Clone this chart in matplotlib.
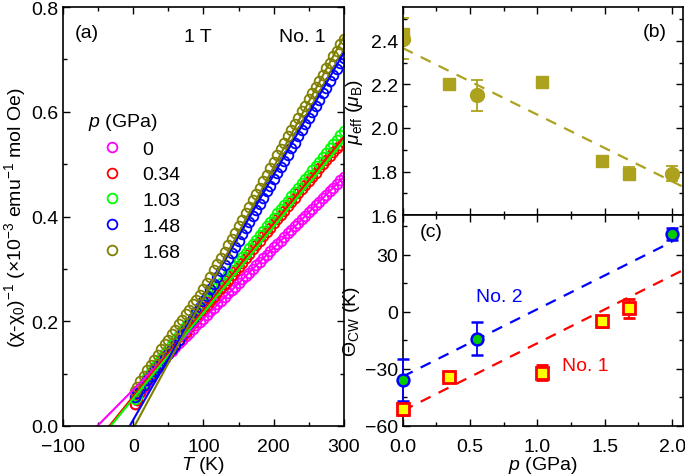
import matplotlib
matplotlib.use('Agg')
import matplotlib.pyplot as plt
import numpy as np
from matplotlib.ticker import MultipleLocator

plt.rcParams['font.family'] = ['Liberation Sans', 'DejaVu Sans']
plt.rcParams['mathtext.fontset'] = 'custom'
plt.rcParams['mathtext.rm'] = 'Liberation Sans'
plt.rcParams['mathtext.it'] = 'Liberation Sans:italic'
plt.rcParams['mathtext.bf'] = 'Liberation Sans:bold'
plt.rcParams['font.size'] = 14

# ---- panel (a) data: inverse susceptibility vs T ----
T = [2, 5, 10, 15, 20, 25, 30, 35, 40, 45, 50, 55, 60, 65, 70, 75, 80, 85, 90, 95,
     100, 105, 110, 115, 120, 125, 130, 135, 140, 145, 150, 155, 160, 165, 170, 175,
     180, 185, 190, 195, 200, 205, 210, 215, 220, 225, 230, 235, 240, 245, 250, 255,
     260, 265, 270, 275, 280, 285, 290, 295, 300]

inv_chi_0 = [0.042, 0.050, 0.062, 0.073, 0.083, 0.092, 0.101, 0.110, 0.120, 0.130, 0.138,
             0.144, 0.151, 0.158, 0.165, 0.172, 0.178, 0.185, 0.192, 0.199, 0.205,
             0.212, 0.219, 0.226, 0.232, 0.239, 0.246, 0.253, 0.259, 0.266, 0.273,
             0.280, 0.286, 0.293, 0.300, 0.307, 0.313, 0.320, 0.327, 0.334, 0.341,
             0.347, 0.354, 0.361, 0.368, 0.374, 0.381, 0.388, 0.395, 0.401, 0.408,
             0.415, 0.422, 0.428, 0.435, 0.442, 0.449, 0.455, 0.462, 0.469, 0.476]
inv_chi_034 = [0.042, 0.050, 0.064, 0.077, 0.089, 0.099, 0.108, 0.117, 0.125, 0.133, 0.140,
               0.147, 0.155, 0.164, 0.172, 0.180, 0.188, 0.197, 0.205, 0.213, 0.222,
               0.230, 0.238, 0.246, 0.255, 0.263, 0.271, 0.279, 0.288, 0.296, 0.304,
               0.312, 0.321, 0.329, 0.337, 0.345, 0.354, 0.362, 0.370, 0.378, 0.387,
               0.395, 0.403, 0.411, 0.420, 0.428, 0.436, 0.444, 0.452, 0.460, 0.468,
               0.476, 0.484, 0.492, 0.500, 0.508, 0.516, 0.523, 0.530, 0.537, 0.543]
inv_chi_103 = [0.052, 0.058, 0.070, 0.082, 0.093, 0.103, 0.112, 0.121, 0.130, 0.139, 0.147,
               0.156, 0.164, 0.173, 0.181, 0.190, 0.198, 0.207, 0.215, 0.224, 0.232,
               0.240, 0.248, 0.257, 0.265, 0.273, 0.281, 0.290, 0.298, 0.306, 0.315,
               0.323, 0.331, 0.339, 0.348, 0.356, 0.364, 0.373, 0.381, 0.389, 0.398,
               0.406, 0.414, 0.422, 0.430, 0.439, 0.447, 0.455, 0.464, 0.472, 0.480,
               0.488, 0.497, 0.505, 0.513, 0.522, 0.530, 0.538, 0.546, 0.555, 0.563]
inv_chi_148 = [0.056, 0.062, 0.071, 0.079, 0.088, 0.096, 0.105, 0.113, 0.121, 0.129, 0.137,
               0.146, 0.155, 0.165, 0.175, 0.185, 0.195, 0.206, 0.217, 0.228, 0.239,
               0.249, 0.261, 0.272, 0.284, 0.296, 0.307, 0.319, 0.331, 0.342, 0.354,
               0.366, 0.378, 0.389, 0.401, 0.413, 0.424, 0.436, 0.448, 0.459, 0.471,
               0.483, 0.494, 0.506, 0.518, 0.530, 0.541, 0.553, 0.565, 0.576, 0.588,
               0.600, 0.611, 0.623, 0.635, 0.646, 0.658, 0.670, 0.681, 0.693, 0.703]
inv_chi_168 = [0.067, 0.074, 0.085, 0.096, 0.106, 0.116, 0.126, 0.136, 0.146, 0.156, 0.165,
               0.175, 0.184, 0.194, 0.203, 0.213, 0.222, 0.232, 0.241, 0.251, 0.261,
               0.273, 0.285, 0.297, 0.309, 0.321, 0.333, 0.345, 0.357, 0.369, 0.382,
               0.394, 0.406, 0.418, 0.431, 0.443, 0.455, 0.468, 0.480, 0.492, 0.505,
               0.517, 0.529, 0.541, 0.553, 0.565, 0.577, 0.589, 0.601, 0.612, 0.624,
               0.636, 0.648, 0.659, 0.671, 0.683, 0.694, 0.706, 0.717, 0.729, 0.740]

p_labels = ['0', '0.34', '1.03', '1.48', '1.68']
colors_a = ['#ff00ff', '#ff0000', '#00ff00', '#0000ff', '#808000']
series_a = [inv_chi_0, inv_chi_034, inv_chi_103, inv_chi_148, inv_chi_168]

# ---- panel (b)/(c) data: sample No. 1 (squares) and No. 2 (circles) ----
p1 = [0.0, 0.34, 1.03, 1.48, 1.68]
mu1 = [2.43, 2.20, 2.21, 1.85, 1.79]
mu1_err = [0.0, 0.0, 0.0, 0.0, 0.03]
theta1 = [-51, -34, -32, -5, 2]
theta1_err = [3, 2, 4, 3, 5]

p2 = [0.0, 0.55, 2.0]
mu2 = [2.41, 2.15, 1.79]
mu2_err = [0.095, 0.07, 0.035]
theta2 = [-36, -14, 41]
theta2_err = [11, 8.5, 3]

# dashed guide lines (endpoints)
p_line_b = [0.0, 2.08]
mu_line = [2.367, 1.73]
p_line_red = [0.0, 2.08]
theta_line_red = [-52, 22]
p_line_blue = [0.0, 2.0]
theta_line_blue = [-34, 37]

olive_b = '#ada21e'

fig = plt.figure(figsize=(6.85, 4.77), dpi=100)
axa = fig.add_axes([0.092, 0.105, 0.410, 0.878])
axb = fig.add_axes([0.588, 0.547, 0.409, 0.436])
axc = fig.add_axes([0.588, 0.105, 0.409, 0.442])

# Panel (a)
for y, c, lab in zip(series_a, colors_a, p_labels):
    axa.plot(T, y, 'o', mfc='none', mec=c, ms=7, mew=1.3, label=lab)
# Curie-Weiss fit lines built from the fitted Theta and mu_eff
for th, mu, c in zip(theta1, mu1, colors_a):
    slope = 8.0 / mu ** 2 / 1000.0
    axa.plot([th, 310], [0, slope * (310 - th)], '-', color=c, lw=1.5)

axa.set_xlim(-100, 300)
axa.set_ylim(0, 0.8)
axa.xaxis.set_major_locator(MultipleLocator(100))
axa.xaxis.set_minor_locator(MultipleLocator(50))
axa.yaxis.set_major_locator(MultipleLocator(0.2))
axa.yaxis.set_minor_locator(MultipleLocator(0.1))
axa.set_xlabel('$T$ (K)', labelpad=-1)
axa.set_ylabel('(χ-χ$_0$)$^{-1}$ (×10$^{-3}$ emu$^{-1}$ mol Oe)', labelpad=2)
axa.text(0.04, 0.96, '(a)', transform=axa.transAxes, va='top')
axa.text(0.43, 0.95, '1 T', transform=axa.transAxes, va='top')
axa.text(0.77, 0.95, 'No. 1', transform=axa.transAxes, va='top')
leg = axa.legend(loc='upper left', bbox_to_anchor=(0.04, 0.785), frameon=False,
                 title='$p$ (GPa)', handlelength=2.5, handletextpad=0.3,
                 labelspacing=0.42, borderpad=0.2, fontsize=14, title_fontsize=14)
leg._legend_box.align = 'left'

# Panel (b)
axb.plot(p_line_b, mu_line, '--', color=olive_b, lw=1.6, dashes=(5, 4))
axb.errorbar(p1, mu1, yerr=mu1_err, fmt='s', color=olive_b, ms=9, capsize=4, elinewidth=1.3, capthick=1.3)
axb.errorbar(p2, mu2, yerr=mu2_err, fmt='o', color=olive_b, ms=10, capsize=4, elinewidth=1.3, capthick=1.3)
axb.set_xlim(0, 2.08)
axb.set_ylim(1.6, 2.555)
axb.xaxis.set_major_locator(MultipleLocator(0.5))
axb.xaxis.set_minor_locator(MultipleLocator(0.25))
axb.yaxis.set_major_locator(MultipleLocator(0.2))
axb.yaxis.set_minor_locator(MultipleLocator(0.1))
axb.tick_params(labelbottom=False)
axb.set_ylabel('$\\mu_{\\rm eff}$ ($\\mu_{\\rm B}$)', labelpad=4)
axb.text(0.9, 0.86, '(b)', transform=axb.transAxes, ha='center')

# Panel (c)
axc.plot(p_line_red, theta_line_red, '--', color='#ff0000', lw=1.6, dashes=(5, 4))
axc.plot(p_line_blue, theta_line_blue, '--', color='#0000ff', lw=1.6, dashes=(5, 4))
axc.errorbar(p1, theta1, yerr=theta1_err, fmt='s', mfc='#ffff00', mec='#ff0000', ecolor='#ff0000',
             ms=8, mew=2, capsize=4, elinewidth=1.3, capthick=1.3, clip_on=False, zorder=3)
axc.errorbar(p2, theta2, yerr=theta2_err, fmt='o', mfc='#00cc00', mec='#0000ff', ecolor='#0000ff',
             ms=8.5, mew=1.8, capsize=4, elinewidth=1.3, capthick=1.3, clip_on=False, zorder=3)
axc.set_xlim(0, 2.08)
axc.set_ylim(-60, 51)
axc.xaxis.set_major_locator(MultipleLocator(0.5))
axc.xaxis.set_minor_locator(MultipleLocator(0.25))
axc.xaxis.set_major_formatter(plt.FormatStrFormatter('%.1f'))
axc.yaxis.set_major_locator(MultipleLocator(30))
axc.yaxis.set_minor_locator(MultipleLocator(15))
axc.set_xlabel('$p$ (GPa)', labelpad=-1)
axc.set_ylabel('Θ$_{\\rm CW}$ (K)', labelpad=2)
axc.text(0.06, 0.9, '(c)', transform=axc.transAxes)
axc.text(0.54, 8, 'No. 2', color='#0000ff', va='center')
axc.text(1.18, -28, 'No. 1', color='#ff0000', va='center')

for ax in (axa, axb, axc):
    ax.tick_params(which='both', direction='in', top=True, right=True, width=1.0)
    ax.tick_params(which='major', length=5)
    ax.tick_params(which='minor', length=3)
    ax.tick_params(axis='x', which='major', pad=9)
    for s in ax.spines.values():
        s.set_linewidth(1.2)

fig.savefig('out.png', dpi=100)
